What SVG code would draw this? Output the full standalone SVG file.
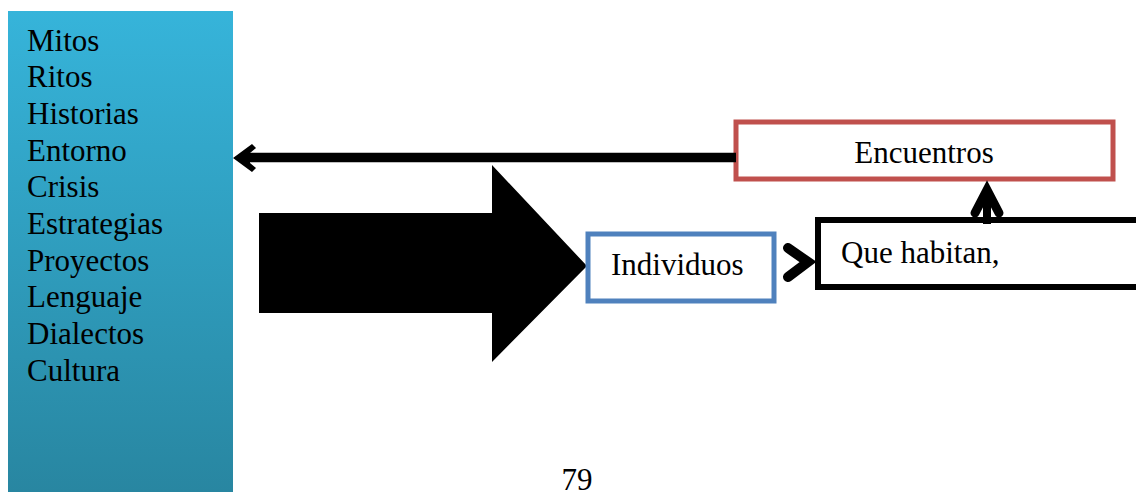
<svg xmlns="http://www.w3.org/2000/svg" width="1136" height="492" viewBox="0 0 1136 492">
<defs>
<linearGradient id="panelGrad" x1="0" y1="0" x2="0" y2="1">
<stop offset="0" stop-color="#36b4da"/>
<stop offset="1" stop-color="#2886a1"/>
</linearGradient>
</defs>
<style>
.t{font-family:"Liberation Serif","Times New Roman",serif;font-size:31px;fill:#000}
.box{fill:#fff;stroke-width:5}
.conn{fill:none;stroke:#000}
</style>
<rect width="1136" height="492" fill="#fff"/>
<g id="panel">
<rect x="8" y="11" width="225" height="481" fill="url(#panelGrad)"/>
<text class="t" x="27" y="50.5">Mitos</text>
<text class="t" x="27" y="87.2">Ritos</text>
<text class="t" x="27" y="123.9">Historias</text>
<text class="t" x="27" y="160.6">Entorno</text>
<text class="t" x="27" y="197.3">Crisis</text>
<text class="t" x="27" y="234">Estrategias</text>
<text class="t" x="27" y="270.7">Proyectos</text>
<text class="t" x="27" y="307.4">Lenguaje</text>
<text class="t" x="27" y="344.1">Dialectos</text>
<text class="t" x="27" y="380.8">Cultura</text>
</g>
<g id="bigArrow">
<polygon points="259,213 492,213 492,165 587,266 492,362 492,313 259,313" fill="#000"/>
</g>
<g id="encuentros">
<rect class="box" x="736" y="122" width="377" height="57" stroke="#c0504d"/>
<text class="t" x="924" y="163" text-anchor="middle">Encuentros</text>
</g>
<g id="individuos">
<rect class="box" x="588" y="234" width="186" height="67" stroke="#4f81bd"/>
<text class="t" x="611" y="275">Individuos</text>
</g>
<g id="queHabitan">
<rect x="818" y="220" width="330" height="67" fill="#fff" stroke="#000" stroke-width="6"/>
<text class="t" x="841" y="263">Que habitan,</text>
</g>
<g id="connectors">
<line class="conn" x1="736" y1="157.5" x2="248" y2="157.5" stroke-width="9.5"/>
<path d="M233,158 L252,144 L256,148 L250,153 L250,163 L256,168 L252,172 Z" fill="#000"/>
<polyline class="conn" points="788,248 808,262 788,277" stroke-width="10" stroke-linecap="round" stroke-linejoin="miter"/>
<line class="conn" x1="987" y1="224" x2="987" y2="188" stroke-width="8"/>
<polyline class="conn" points="975,213 987,190 999,213" stroke-width="9" stroke-linecap="round" stroke-linejoin="miter"/>
</g>
<text class="t" x="577" y="490" text-anchor="middle">79</text>
</svg>
